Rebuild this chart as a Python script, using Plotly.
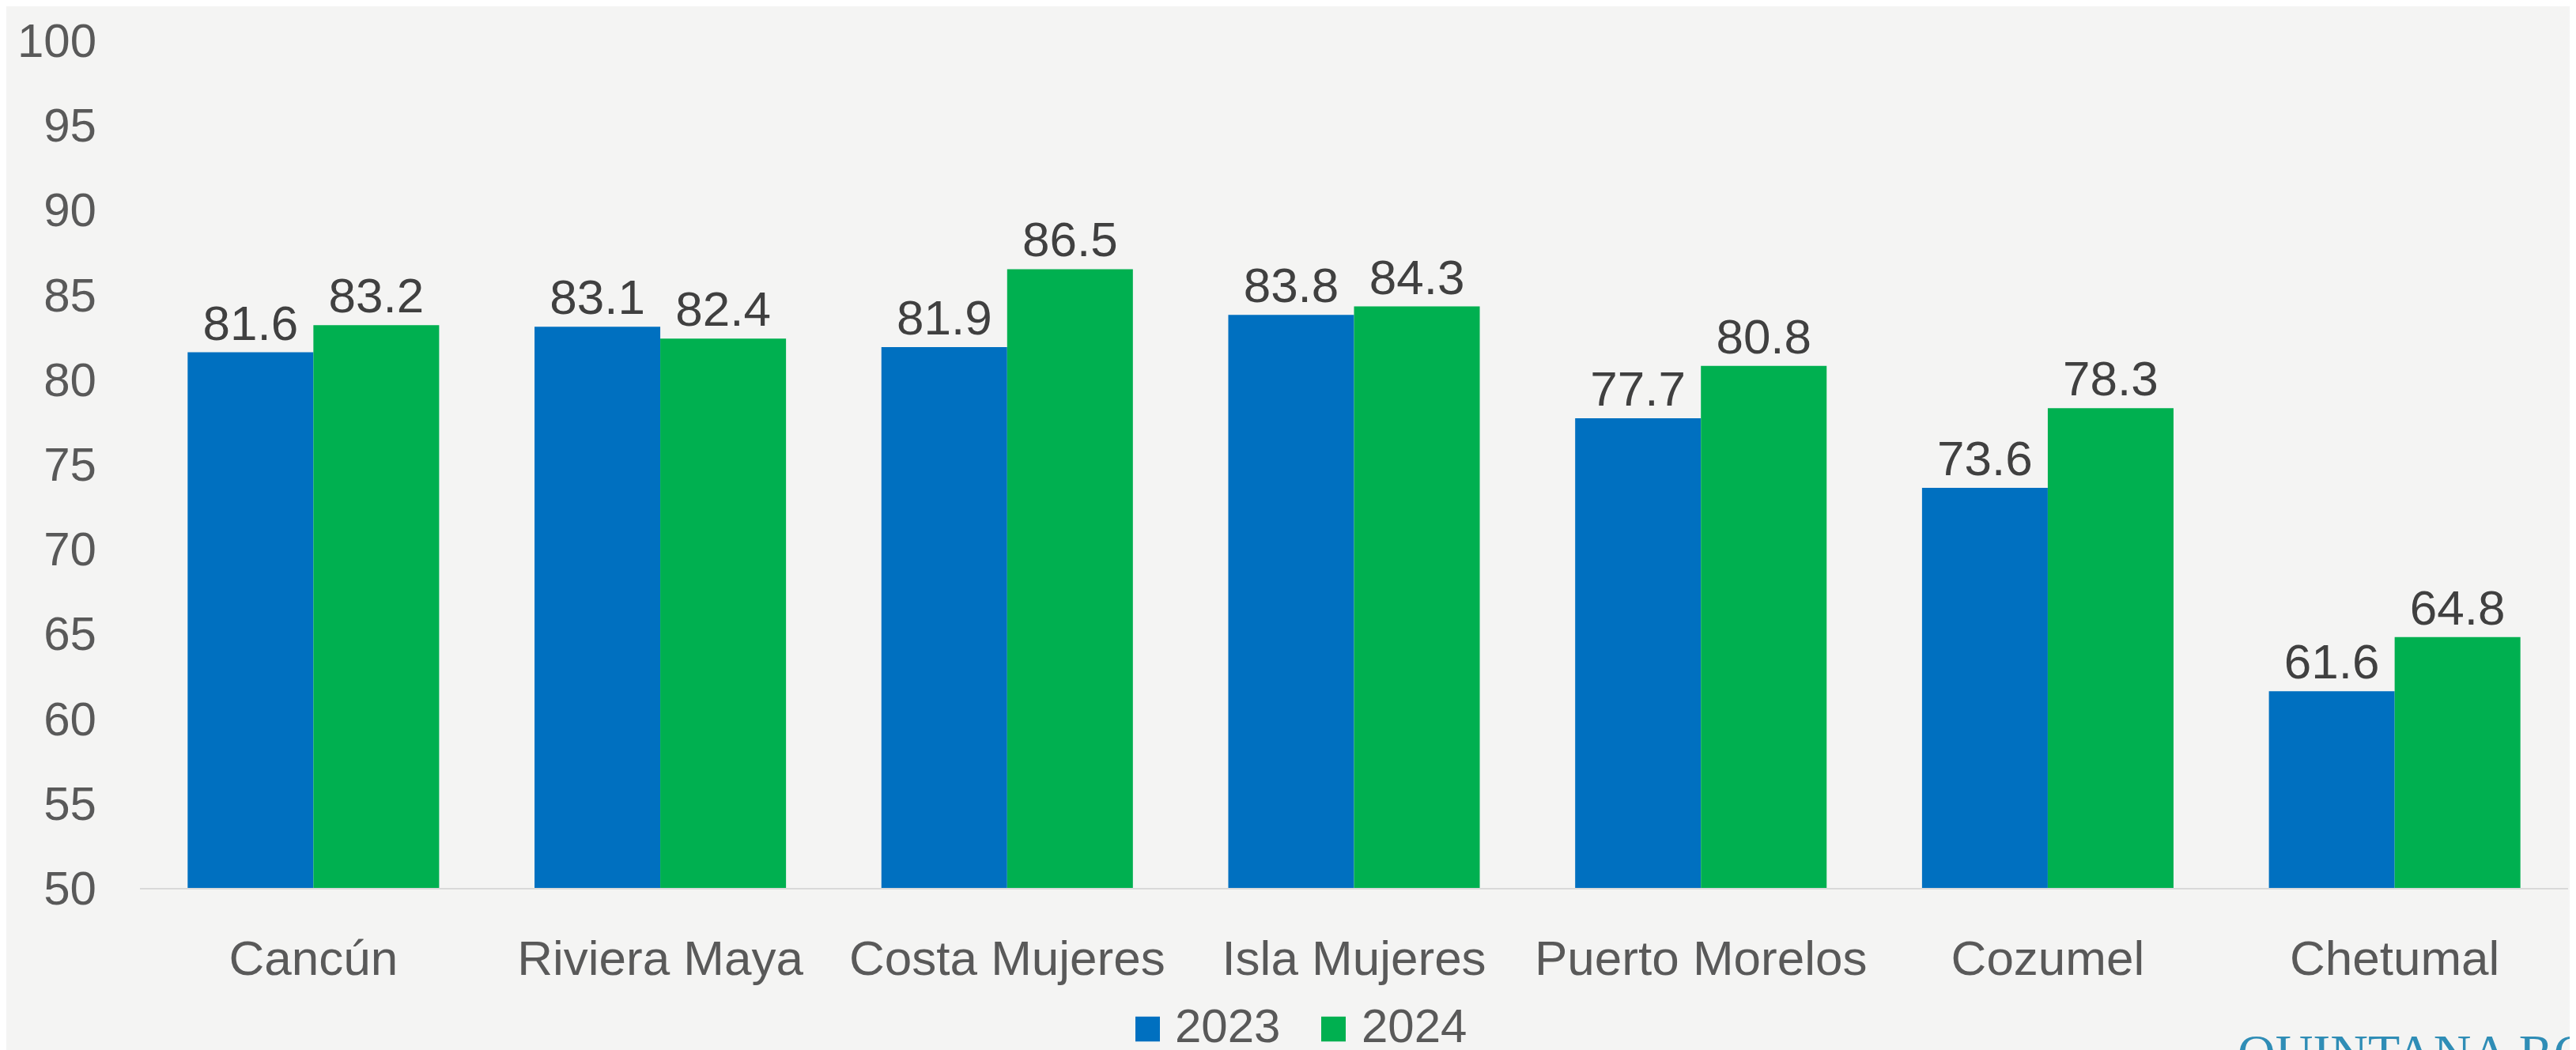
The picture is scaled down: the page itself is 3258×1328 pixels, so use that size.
import plotly.graph_objects as go

# the page body adds 8px around the figure, so the figure is shrunk by that
OFF = 8
W, H = 3258 - OFF, 1328 - OFF
L, R, T, B = 177 - OFF, 10, 42 - OFF, 205

destinos = ["Cancún", "Riviera Maya", "Costa Mujeres", "Isla Mujeres",
            "Puerto Morelos", "Cozumel", "Chetumal"]
ocupacion_2023 = [81.6, 83.1, 81.9, 83.8, 77.7, 73.6, 61.6]
ocupacion_2024 = [83.2, 82.4, 86.5, 84.3, 80.8, 78.3, 64.8]
anios = ["2023", "2024"]
colores = ["#0070C0", "#00B050"]

FONT = "Liberation Sans, Arial, sans-serif"


def px_x(x):
    # screen pixel column -> paper fraction of the plot area
    return (x - OFF - L) / (W - L - R)


def px_y(y):
    return (H - B - (y - OFF)) / (H - T - B)


fig = go.Figure()
for anio, vals, col in zip(anios, [ocupacion_2023, ocupacion_2024], colores):
    fig.add_trace(go.Bar(
        x=destinos, y=vals, name=anio,
        marker=dict(color=col, line=dict(width=0)),
        text=[f"{v:.1f}" for v in vals],
        textposition="outside",
        textfont=dict(family=FONT, size=62, color="#404040"),
        constraintext="none",
        cliponaxis=False,
        showlegend=False,
    ))

# legend drawn by hand so the swatches can match the reference size
legend_items = [(1436, 1484), (1671, 1720)]
for (sx, tx), anio, col in zip(legend_items, anios, colores):
    fig.add_shape(type="rect", xref="paper", yref="paper",
                  x0=px_x(sx), x1=px_x(sx + 31), y0=px_y(1287), y1=px_y(1319),
                  fillcolor=col, line=dict(width=0))
    fig.add_annotation(x=px_x(tx), y=px_y(1299), xref="paper", yref="paper",
                       text=anio, showarrow=False, xanchor="left", yanchor="middle",
                       font=dict(family=FONT, size=60, color="#595959"))

fig.add_annotation(x=px_x(2828), y=px_y(1294), xref="paper", yref="paper",
                   text="QUINTANA ROO", showarrow=False, xanchor="left", yanchor="top",
                   font=dict(family="Liberation Serif, serif", size=66, color="#2f8db6"))

fig.update_layout(
    width=W, height=H,
    margin=dict(l=L, r=R, t=T, b=B, pad=0),
    paper_bgcolor="#f4f4f3", plot_bgcolor="#f4f4f3",
    barmode="group", bargap=0.275, bargroupgap=0,
    showlegend=False,
    font=dict(family=FONT, color="#595959"),
)
fig.update_yaxes(range=[50, 100], dtick=5, showgrid=False, zeroline=False,
                 showline=False, ticks="", ticklabelstandoff=54,
                 tickfont=dict(family=FONT, size=60, color="#595959"))
fig.update_xaxes(showgrid=False, showline=True, linecolor="#d9d9d9", linewidth=2,
                 ticks="", ticklabelstandoff=34,
                 tickfont=dict(family=FONT, size=62, color="#595959"))

fig.write_html("out.html")
